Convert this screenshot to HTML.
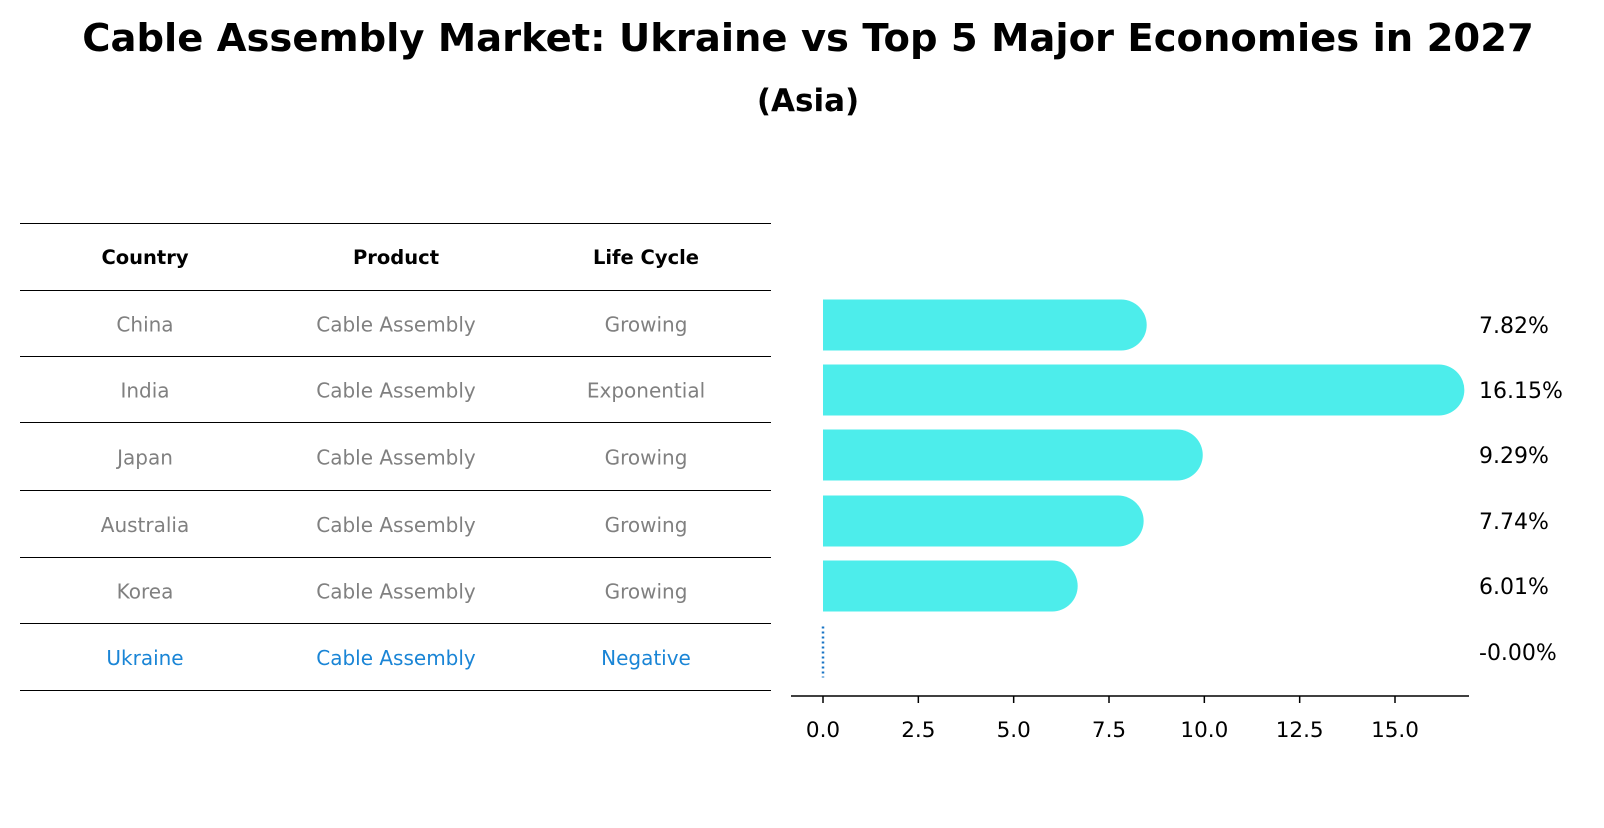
<!DOCTYPE html>
<html><head><meta charset="utf-8"><style>
body{margin:0;background:#fff;font-family:"Liberation Sans","DejaVu Sans",sans-serif;}
svg text{font-family:"DejaVu Sans","Liberation Sans",sans-serif;}
</style></head><body>
<svg id="chart" width="1604" height="823" xmlns="http://www.w3.org/2000/svg">
<text x="808" y="51" text-anchor="middle" font-size="38.5" font-weight="bold">Cable Assembly Market: Ukraine vs Top 5 Major Economies in 2027</text>
<text x="808" y="111" text-anchor="middle" font-size="31" font-weight="bold">(Asia)</text>
<g id="table"></g>
<g id="bars"></g>
</svg>
<script>
const countries=["China","India","Japan","Australia","Korea","Ukraine"];
const products=["Cable Assembly","Cable Assembly","Cable Assembly","Cable Assembly","Cable Assembly","Cable Assembly"];
const lifeCycles=["Growing","Exponential","Growing","Growing","Growing","Negative"];
const values=[7.82,16.15,9.29,7.74,6.01,-0.00];
const tickLabels=[0,2.5,5,7.5,10,12.5,15];
const NS="http://www.w3.org/2000/svg";
function mk(tag,attrs,parent,text){const e=document.createElementNS(NS,tag);for(const k in attrs)e.setAttribute(k,attrs[k]);if(text!==undefined)e.textContent=text;parent.appendChild(e);return e;}
const tbl=document.getElementById('table');
const lineYs=[223.5,290.5,356.5,422.5,490.5,557.5,623.5,690.5];
lineYs.forEach(y=>{const l=mk('line',{x1:20,x2:771,y1:y,y2:y,stroke:'#000','stroke-width':1},tbl);

});
const colX=[145,396,646];
["Country","Product","Life Cycle"].forEach((h,i)=>{const t=mk('text',{x:colX[i],y:264,'text-anchor':'middle','font-size':19.5,'font-weight':'bold'},tbl,h);

});
countries.forEach((c,r)=>{const y=(lineYs[r+1]+lineYs[r+2])/2+8;const col=c==="Ukraine"?'#1a85d6':'#808080';
[c,products[r],lifeCycles[r]].forEach((v,i)=>{const t=mk('text',{x:colX[i],y:y,'text-anchor':'middle','font-size':20,fill:col},tbl,v);

});});
const bg=document.getElementById('bars');
const x0=823,pxPer=572/15;
function xs(v){return x0+v*pxPer;}
const centers=[325,390,455,521,586,652];const bh=51;
values.forEach((v,i)=>{const cy=centers[i];
if(v>0.001){const p=mk('path',{d:`M${xs(0)},${cy-bh/2} H${xs(v)} A${bh/2},${bh/2} 0 0 1 ${xs(v)},${cy+bh/2} H${xs(0)} Z`,fill:'#4dedeb'},bg);

}
else{const l=mk('line',{x1:xs(0),x2:xs(0),y1:cy-bh/2,y2:cy+bh/2,stroke:'#1a75c6','stroke-width':2.5,'stroke-dasharray':'2,3'},bg);

}
const neg=(v<0||Object.is(v,-0));
const t=mk('text',{x:1479,y:cy+8,'font-size':22},bg,(neg?'-':'')+Math.abs(v).toFixed(2)+'%');

});
const ax=mk('line',{x1:791,x2:1469,y1:696,y2:696,stroke:'#000','stroke-width':1.5},bg);


tickLabels.forEach(v=>{const tk=mk('line',{x1:xs(v),x2:xs(v),y1:696,y2:703,stroke:'#000','stroke-width':1.5},bg);


const t=mk('text',{x:xs(v),y:737,'text-anchor':'middle','font-size':21.5},bg,v.toFixed(1));

});
</script>
</body></html>
